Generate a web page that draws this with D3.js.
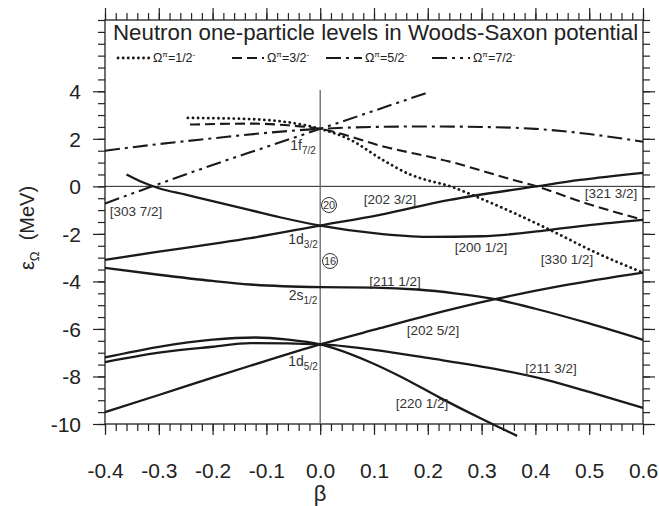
<!DOCTYPE html>
<html>
<head>
<meta charset="utf-8">
<script src="https://cdn.jsdelivr.net/npm/d3@7"></script>
<style>
  body { margin: 0; background: #fff; }
  svg { font-family: "Liberation Sans", Arial, sans-serif; }
  .axis text { font-size: 21px; fill: #222; }
  .axis path, .axis line { stroke: #222; stroke-width: 1.2; }
  .lbl { font-size: 13.5px; fill: #333; }
</style>
</head>
<body>
<script>

// tick labels
const betaTicks = [-0.4, -0.3, -0.2, -0.1, 0.0, 0.1, 0.2, 0.3, 0.4, 0.5, 0.6];
const energyTicks = [-10, -8, -6, -4, -2, 0, 2, 4];

// positive parity levels (solid), [beta, energy in MeV]
const lvl202_52 = [[-0.4,-9.5],[-0.3,-8.78],[-0.2,-8.05],[-0.13,-7.55],[0,-6.65],[0.111,-5.97],[0.2,-5.43],[0.325,-4.75],[0.45,-4.18],[0.6,-3.63]];
const lvl211_32 = [[-0.4,-7.4],[-0.3,-7.0],[-0.2,-6.75],[-0.13,-6.6],[0,-6.65],[0.1,-6.88],[0.2,-7.22],[0.334,-7.72],[0.42,-8.14],[0.5,-8.65],[0.6,-9.32]];
const lvl220_12 = [[-0.4,-7.2],[-0.3,-6.75],[-0.2,-6.45],[-0.12,-6.36],[-0.06,-6.45],[0,-6.65],[0.093,-7.4],[0.149,-8.0],[0.223,-8.9],[0.297,-9.75],[0.366,-10.5]];
const lvl211_12 = [[-0.4,-3.43],[-0.3,-3.72],[-0.2,-3.98],[-0.13,-4.13],[0,-4.24],[0.1,-4.26],[0.18,-4.34],[0.25,-4.5],[0.325,-4.75],[0.4,-5.15],[0.5,-5.77],[0.6,-6.46]];
const lvl202_32 = [[-0.4,-3.09],[-0.3,-2.75],[-0.2,-2.42],[-0.13,-2.18],[0,-1.65],[0.111,-1.2],[0.241,-0.57],[0.402,0.0],[0.483,0.27],[0.6,0.57]];
const lvl200_12 = [[-0.36,0.5],[-0.33,0.17],[-0.3,-0.08],[-0.25,-0.35],[-0.2,-0.62],[-0.13,-1.0],[-0.075,-1.3],[0,-1.65],[0.1,-1.97],[0.2,-2.13],[0.3,-2.1],[0.42,-1.85],[0.5,-1.63],[0.6,-1.41]];

// negative parity levels from 1f7/2
const lvl330_12 = [[-0.246,2.88],[-0.13,2.83],[0,2.42],[0.056,1.96],[0.117,1.1],[0.167,0.5],[0.2,0.25],[0.235,0.05],[0.297,-0.5],[0.427,-1.83],[0.508,-2.74],[0.6,-3.63]];
const lvl321_32 = [[-0.242,2.6],[-0.13,2.64],[-0.06,2.57],[0,2.42],[0.117,1.68],[0.241,1.04],[0.359,0.27],[0.402,0.0],[0.495,-0.72],[0.6,-1.41]];
const lvl312_52 = [[-0.4,1.5],[-0.3,1.78],[-0.2,2.02],[-0.1,2.25],[0,2.42],[0.1,2.5],[0.2,2.52],[0.3,2.5],[0.4,2.42],[0.5,2.2],[0.6,1.88]];
const lvl303_72 = [[-0.4,-0.72],[-0.3,0.1],[-0.2,0.9],[-0.1,1.66],[0,2.42],[0.1,3.18],[0.2,3.95]];

const legendNames = ["1/2", "3/2", "5/2", "7/2"];

const W = 659, H = 506;
const pl = 105, pr = 643, pt = 20, pb = 424;

const x = d3.scaleLinear().domain([-0.4, 0.6]).range([pl, pr]);
const y = d3.scaleLinear().domain([-10, 7]).range([pb, pt]);

const svg = d3.select("body").append("svg")
  .attr("width", W).attr("height", H);

const minorX = d3.range(-0.4, 0.6001, 0.02).map(d => +d.toFixed(2));
const minorY = d3.range(-10, 7.001, 0.5);

function addAxis(axis, tx, ty, cls) {
  return svg.append("g").attr("class", "axis " + (cls || ""))
    .attr("transform", `translate(${tx},${ty})`).call(axis);
}

// minor ticks
addAxis(d3.axisBottom(x).tickValues(minorX).tickSize(7).tickSizeOuter(0).tickFormat(""), 0, pb);
addAxis(d3.axisTop(x).tickValues(minorX).tickSize(7).tickSizeOuter(0).tickFormat(""), 0, pt);
addAxis(d3.axisLeft(y).tickValues(minorY).tickSize(7).tickSizeOuter(0).tickFormat(""), pl, 0);
addAxis(d3.axisRight(y).tickValues(minorY).tickSize(7).tickSizeOuter(0).tickFormat(""), pr, 0);

// major ticks
const xb = addAxis(d3.axisBottom(x).tickValues(betaTicks).tickSize(11).tickSizeOuter(0)
  .tickFormat(d => d.toFixed(1)), 0, pb, "xb");
addAxis(d3.axisTop(x).tickValues(betaTicks).tickSize(12).tickSizeOuter(0).tickFormat(""), 0, pt);
addAxis(d3.axisLeft(y).tickValues(energyTicks).tickSize(12).tickSizeOuter(0).tickPadding(12)
  .tickFormat(d => String(d)), pl, 0);
addAxis(d3.axisRight(y).tickValues(energyTicks).tickSize(12).tickSizeOuter(0).tickFormat(""), pr, 0);

svg.selectAll(".axis .tick text").attr("dy", "0.35em");
xb.selectAll(".tick text").attr("dy", null).attr("y", 54);
svg.selectAll(".axis .domain").remove();

// frame
svg.append("rect").attr("x", pl).attr("y", pt)
  .attr("width", pr - pl).attr("height", pb - pt)
  .attr("fill", "none").attr("stroke", "#222").attr("stroke-width", 1.3);

// reference lines
svg.append("line").attr("x1", pl).attr("x2", pr).attr("y1", y(0)).attr("y2", y(0))
  .attr("stroke", "#222").attr("stroke-width", 1);
svg.append("line").attr("x1", x(0)).attr("x2", x(0)).attr("y1", y(4.05)).attr("y2", y(-10))
  .attr("stroke", "#666").attr("stroke-width", 1.3);

const line = d3.line().x(d => x(d[0])).y(d => y(d[1])).curve(d3.curveMonotoneX);

const styles = {
  solid:  { dash: null, w: 2.3, cap: "butt" },
  dot:    { dash: "0.1 5", w: 2.8, cap: "round" },
  dash:   { dash: "10 5", w: 2.1, cap: "butt" },
  dashdot:{ dash: "15 5 3 5", w: 2.1, cap: "butt" },
  dashdd: { dash: "15 5 3 5 3 5", w: 2.1, cap: "butt" }
};

const levels = [
  [lvl202_52, "solid"], [lvl211_32, "solid"], [lvl220_12, "solid"],
  [lvl211_12, "solid"], [lvl202_32, "solid"], [lvl200_12, "solid"],
  [lvl330_12, "dot"], [lvl321_32, "dash"], [lvl312_52, "dashdot"], [lvl303_72, "dashdd"]
];

svg.selectAll("path.level").data(levels).join("path")
  .attr("class", "level")
  .attr("d", d => line(d[0]))
  .attr("fill", "none")
  .attr("stroke", "#1a1a1a")
  .attr("stroke-width", d => styles[d[1]].w)
  .attr("stroke-dasharray", d => styles[d[1]].dash)
  .attr("stroke-linecap", d => styles[d[1]].cap);

// title
svg.append("text").attr("x", 113).attr("y", 40)
  .attr("font-size", 22.3).attr("fill", "#222")
  .text("Neutron one-particle levels in Woods-Saxon potential");

// legend
const legendX = [118, 232, 326, 432];
const legendLen = [32, 32, 36, 38];
const legendStyle = ["dot", "dash", "dashdot", "dashdd"];
legendNames.forEach((name, i) => {
  const st = styles[legendStyle[i]];
  svg.append("line")
    .attr("x1", legendX[i]).attr("x2", legendX[i] + legendLen[i])
    .attr("y1", 58).attr("y2", 58)
    .attr("stroke", "#1a1a1a").attr("stroke-width", st.w)
    .attr("stroke-dasharray", st.dash).attr("stroke-linecap", st.cap);
  const t = svg.append("text").attr("x", legendX[i] + legendLen[i] + 3).attr("y", 62)
    .attr("font-size", 12.5).attr("fill", "#222");
  t.append("tspan").text("Ω");
  t.append("tspan").attr("font-size", 8).attr("dy", -5).text("π");
  t.append("tspan").attr("dy", 5).text("=" + name);
  t.append("tspan").attr("font-size", 8).attr("dy", -5).text("-");
});

// axis titles
svg.append("text").attr("x", x(0)).attr("y", 501).attr("text-anchor", "middle")
  .attr("font-size", 22).attr("fill", "#222").text("β");

const yl = svg.append("text").attr("transform", "translate(34,228) rotate(-90)")
  .attr("text-anchor", "middle").attr("font-size", 20).attr("fill", "#222")
  .attr("xml:space", "preserve");
yl.append("tspan").text("ε");
yl.append("tspan").attr("font-size", 13).attr("dy", 5).text("Ω");
yl.append("tspan").attr("dy", -5).text("  (MeV)");

// Nilsson labels
const labels = [
  ["[202 3/2]", 390, 204], ["[200 1/2]", 481, 252], ["[330 1/2]", 567, 264],
  ["[321 3/2]", 611, 198], ["[303 7/2]", 136, 216], ["[211 1/2]", 395, 286],
  ["[202 5/2]", 433, 335], ["[220 1/2]", 422, 408], ["[211 3/2]", 551, 373]
];
svg.selectAll("text.lbl").data(labels).join("text")
  .attr("class", "lbl").attr("text-anchor", "middle")
  .attr("x", d => d[1]).attr("y", d => d[2]).text(d => d[0]);

// spherical labels
const sph = [["1f", "7/2", 303, 150], ["1d", "3/2", 303, 244], ["2s", "1/2", 303, 300], ["1d", "5/2", 303, 366]];
sph.forEach(s => {
  const t = svg.append("text").attr("x", s[2]).attr("y", s[3]).attr("text-anchor", "middle")
    .attr("font-size", 14).attr("fill", "#333");
  t.append("tspan").text(s[0]);
  t.append("tspan").attr("font-size", 10).attr("dy", 4).text(s[1]);
});

// magic numbers
const magic = [["20", 329, 205], ["16", 330, 261]];
magic.forEach(m => {
  svg.append("circle").attr("cx", m[1]).attr("cy", m[2]).attr("r", 7.5)
    .attr("fill", "#fff").attr("stroke", "#333").attr("stroke-width", 1);
  svg.append("text").attr("x", m[1]).attr("y", m[2] + 4).attr("text-anchor", "middle")
    .attr("font-size", 11).attr("fill", "#333").text(m[0]);
});
</script>
</body>
</html>
